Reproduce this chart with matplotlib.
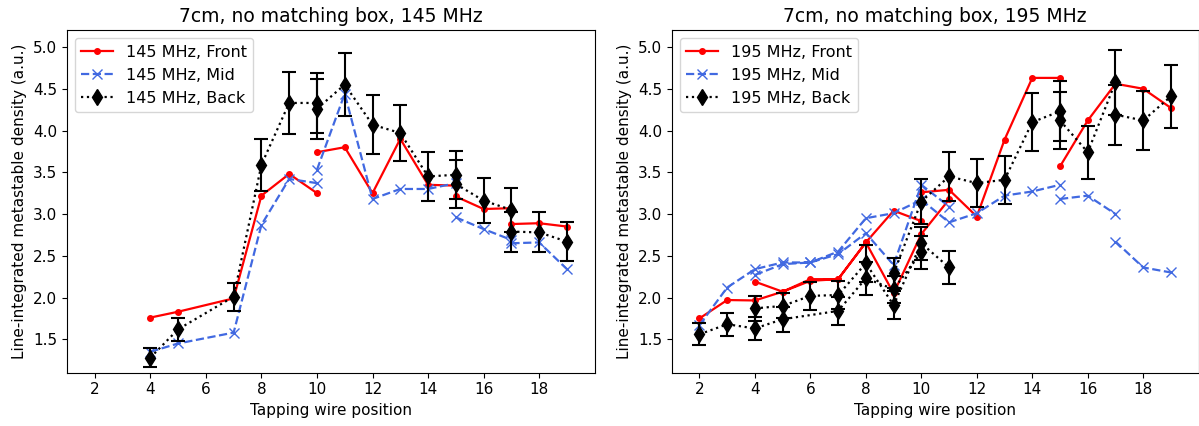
import numpy as np
import matplotlib
matplotlib.use("Agg")
import matplotlib.pyplot as plt

nan = np.nan

# === 145 MHz (segments separated by nan) ===
x_145 = [4, 5, 7, 8, 9, 10, nan, 10, 11, 12, 13, 14, 15, nan, 15, 16, 17, nan, 17, 18, 19]
front_145 = [1.76, 1.83, 1.99, 3.22, 3.48, 3.25, nan, 3.74, 3.80, 3.25, 3.90, 3.35, 3.34, nan,
             3.21, 3.06, 3.07, nan, 2.88, 2.89, 2.85]
mid_145 = [1.35, 1.45, 1.58, 2.87, 3.42, 3.37, nan, 3.53, 4.44, 3.18, 3.30, 3.30, 3.37, nan,
           2.96, 2.82, 2.69, nan, 2.65, 2.66, 2.34]
back_145 = [1.28, 1.62, 2.01, 3.59, 4.33, 4.33, nan, 4.26, 4.55, 4.07, 3.97, 3.45, 3.47, nan,
            3.36, 3.16, 3.05, nan, 2.79, 2.78, 2.67]
back_145_err = [0.11, 0.14, 0.17, 0.31, 0.37, 0.36, nan, 0.36, 0.38, 0.35, 0.34, 0.29, 0.29, nan,
                0.29, 0.27, 0.26, nan, 0.24, 0.24, 0.23]

# === 195 MHz ===
x_195 = [2, 3, 4, 5, 6, 7, 8, 9, 10, nan, 4, 5, 6, 7, 8, 9, 10, 11, nan,
         10, 11, 12, 13, 14, 15, nan, 15, 16, 17, nan, 17, 18, 19]
front_195 = [1.75, 1.97, 1.965, 2.07, 2.20, 2.22, 2.66, 3.04, 2.915, nan,
             2.19, 2.07, 2.22, 2.22, 2.66, 2.05, 2.76, 3.175, nan,
             3.26, 3.29, 2.97, 3.89, 4.63, 4.63, nan, 3.57, 4.12, 4.56, nan, 4.56, 4.50, 4.27]
mid_195 = [1.67, 2.12, 2.34, 2.42, 2.42, 2.55, 2.95, 3.01, 3.17, nan,
           2.27, 2.40, 2.42, 2.52, 2.77, 2.39, 3.35, 3.09, nan,
           3.17, 2.90, 3.01, 3.22, 3.27, 3.35, nan, 3.18, 3.22, 3.00, nan, 2.67, 2.36, 2.30]

x_back_195 = [2, 3, 4, 5, 7, 8, 9, 10, nan, 4, 5, 6, 7, 8, 9, 10, 11, nan,
              9, 10, 11, 12, 13, 14, 15, nan, 15, 16, 17, nan, 17, 18, 19]
back_195 = [1.56, 1.68, 1.63, 1.74, 1.84, 2.23, 2.10, 2.54, nan,
            1.87, 1.90, 2.02, 2.03, 2.41, 1.91, 2.65, 2.36, nan,
            2.29, 3.15, 3.45, 3.37, 3.41, 4.10, 4.23, nan, 4.12, 3.74, 4.58, nan, 4.19, 4.12, 4.41]
back_195_err = [0.13, 0.14, 0.14, 0.15, 0.17, 0.20, 0.16, 0.20, nan,
                0.15, 0.15, 0.17, 0.17, 0.22, 0.17, 0.20, 0.20, nan,
                0.18, 0.27, 0.29, 0.29, 0.29, 0.35, 0.36, nan, 0.34, 0.32, 0.39, nan, 0.36, 0.35, 0.38]

plt.rcParams['font.size'] = 11

fig = plt.figure(figsize=(11.99, 4.26), dpi=100)
ax1 = fig.add_axes([67 / 1199, 53.3 / 426, 527.7 / 1199, 342.4 / 426])
ax2 = fig.add_axes([671.7 / 1199, 53.3 / 426, 527 / 1199, 342.4 / 426])


def draw(ax, freq, x, front, mid, xb, back, err):
    ax.plot(x, front, 'r.-', lw=1.6, ms=8, label=f'{freq} MHz, Front')
    ax.plot(x, mid, 'x--', color='royalblue', lw=1.6, ms=7, label=f'{freq} MHz, Mid')
    # error bars drawn separately so the legend shows just line + marker
    ax.errorbar(xb, back, yerr=err, fmt='none', ecolor='black',
                capsize=5, elinewidth=1.5, capthick=1.5)
    ax.plot(xb, back, 'd:', color='black', lw=1.6, ms=8.5, label=f'{freq} MHz, Back')
    ax.set_xlim(1, 20)
    ax.set_ylim(1.1, 5.2)
    ax.set_xticks(range(2, 20, 2))
    ax.set_xlabel('Tapping wire position')
    ax.set_ylabel('Line-integrated metastable density (a.u.)')
    ax.set_title(f'7cm, no matching box, {freq} MHz', fontsize=13.5)
    ax.legend(loc='upper left', fontsize=11.5)


draw(ax1, 145, x_145, front_145, mid_145, x_145, back_145, back_145_err)
draw(ax2, 195, x_195, front_195, mid_195, x_back_195, back_195, back_195_err)

fig.savefig('out.png', dpi=100)
